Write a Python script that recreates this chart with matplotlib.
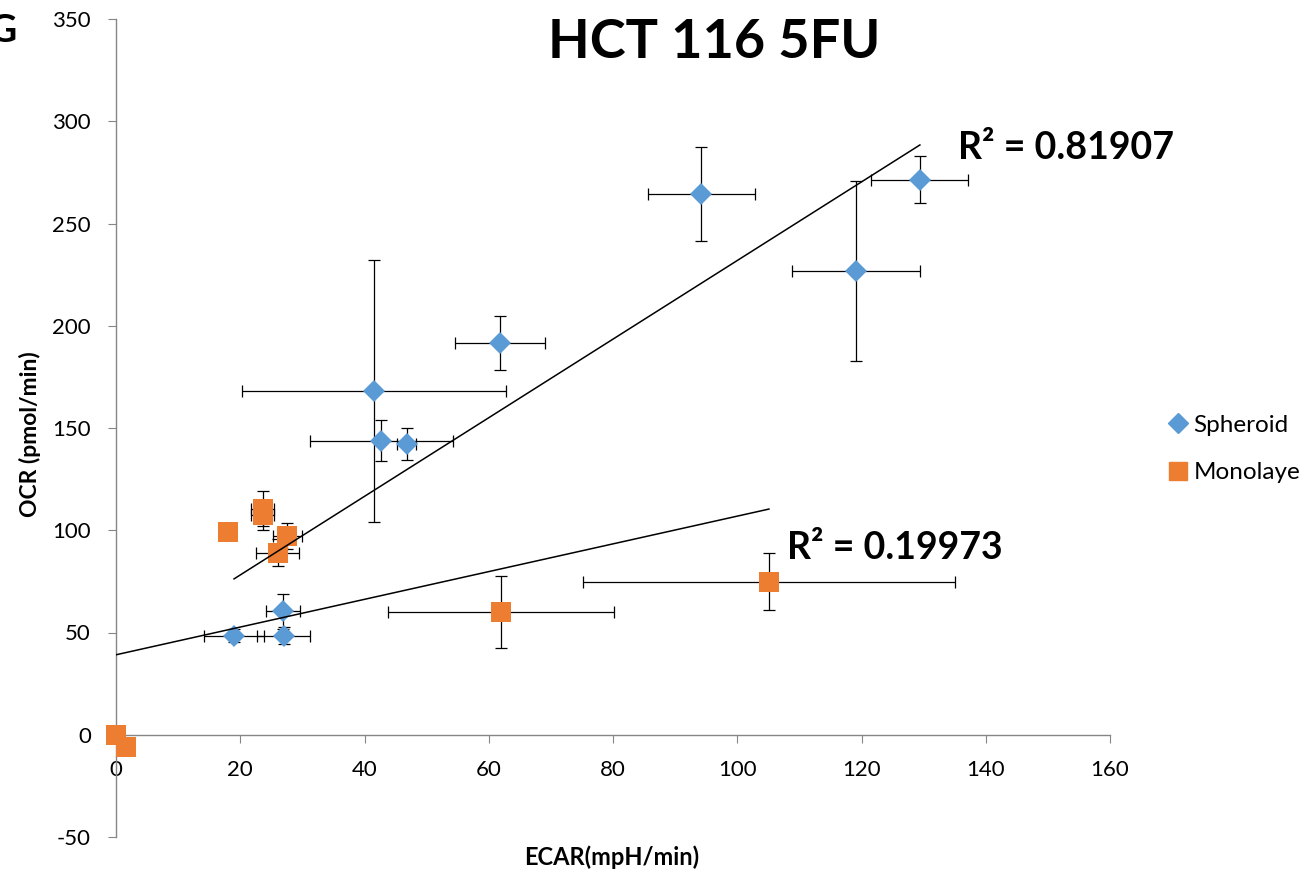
import matplotlib
matplotlib.use('Agg')
import matplotlib.pyplot as plt
from matplotlib.lines import Line2D
import numpy as np

plt.rcParams['font.family'] = ['Lato', 'DejaVu Sans']
plt.rcParams['axes.unicode_minus'] = False

# Spheroid
esf_x = [94.2, 129.4, 119.1, 61.8, 41.5, 42.7, 46.8, 26.9, 19.0, 27.0]
esf_y = [264.4, 271.3, 226.8, 191.6, 168.1, 143.7, 142.2, 60.3, 48.5, 48.5]
esf_xerr = [8.6, 7.8, 10.3, 7.2, 21.2, 11.5, 1.5, 2.7, 4.8, 4.3]
esf_yerr = [23, 11.5, 44, 13, 64, 10, 8, 8.6, 3, 4]

# Monolayer
mono_x = [0, 1.6, 18.1, 23.6, 23.6, 27.6, 26.0, 62.0, 105.1]
mono_y = [0, -5.9, 98.9, 110.5, 107.5, 97.3, 89.1, 60.1, 74.8]
mono_xerr = [0, 0, 0, 1.8, 1.8, 2.4, 3.4, 18.2, 30.0]
mono_yerr = [0, 0, 0, 8.5, 7.5, 6.3, 6.5, 17.6, 14]

# Líneas de tendencia (pendiente, ordenada) y R²
esf_tend = (1.922, 39.7)
mono_tend = (0.678, 39.1)
esf_r2 = 'R² = 0.81907'
mono_r2 = 'R² = 0.19973'

azul = '#5B9BD5'
naranja = '#ED7D31'
gris = '#868686'

fig = plt.figure(figsize=(13.01, 8.74), dpi=100)
ax = fig.add_axes([116/1301, 1-837/874, (1110-116)/1301, (837-19)/874])

ax.errorbar(mono_x, mono_y, xerr=mono_xerr, yerr=mono_yerr, fmt='none',
            ecolor='black', elinewidth=0.9, capsize=4, capthick=0.9, zorder=2)
ax.errorbar(esf_x, esf_y, xerr=esf_xerr, yerr=esf_yerr, fmt='none',
            ecolor='black', elinewidth=0.9, capsize=4, capthick=0.9, zorder=2)
ax.plot(esf_x, esf_y, 'D', color=azul, markersize=11.5, markeredgewidth=0,
        zorder=3, clip_on=False)
ax.plot(mono_x, mono_y, 's', color=naranja, markersize=14, markeredgewidth=0,
        zorder=3, clip_on=False)

# Tendencias
for xs, (m, b) in [(esf_x, esf_tend), (mono_x, mono_tend)]:
    xl = np.array([min(xs), max(xs)])
    ax.plot(xl, m * xl + b, color='black', linewidth=1.1, zorder=4)

ax.text(135.5, 287, esf_r2, fontsize=27, fontweight='bold', va='center')
ax.text(108, 91.4, mono_r2, fontsize=27, fontweight='bold', va='center')

ax.set_xlim(0, 160)
ax.set_ylim(-50, 350)
ax.set_xticks(range(0, 161, 20))
ax.set_yticks(range(-50, 351, 50))
ax.spines['top'].set_visible(False)
ax.spines['right'].set_visible(False)
ax.spines['bottom'].set_position(('data', 0))
for s in ['left', 'bottom']:
    ax.spines[s].set_color(gris)
    ax.spines[s].set_linewidth(1)
ax.tick_params(axis='y', direction='out', length=6, color=gris, labelsize=16, pad=12)
ax.tick_params(axis='x', direction='out', length=6, color=gris, labelsize=16, pad=12)
ax.patch.set_alpha(0)

fig.text(714/1301, 1-42/874, 'HCT 116 5FU', fontsize=39, fontweight='bold',
         ha='center', va='center')
fig.text(17/1301, 1-30/874, 'G', fontsize=28, fontweight='bold', ha='right', va='center')
fig.text(30/1301, 1-434/874, 'OCR (pmol/min)', fontsize=16.5, fontweight='bold',
         rotation=90, ha='center', va='center')
fig.text(612/1301, 1-857/874, 'ECAR(mpH/min)', fontsize=17, fontweight='bold',
         ha='center', va='center')

handles = [Line2D([], [], marker='D', color=azul, linestyle='none', markersize=10),
           Line2D([], [], marker='s', color=naranja, linestyle='none', markersize=13)]
fig.legend(handles, ['Spheroid', 'Monolayer'], loc='center left',
           bbox_to_anchor=(1146/1301, 1-449/874), frameon=False, fontsize=17.5,
           handlelength=0.8, handletextpad=0.25, labelspacing=1.1)

fig.savefig('out.png', dpi=100)
